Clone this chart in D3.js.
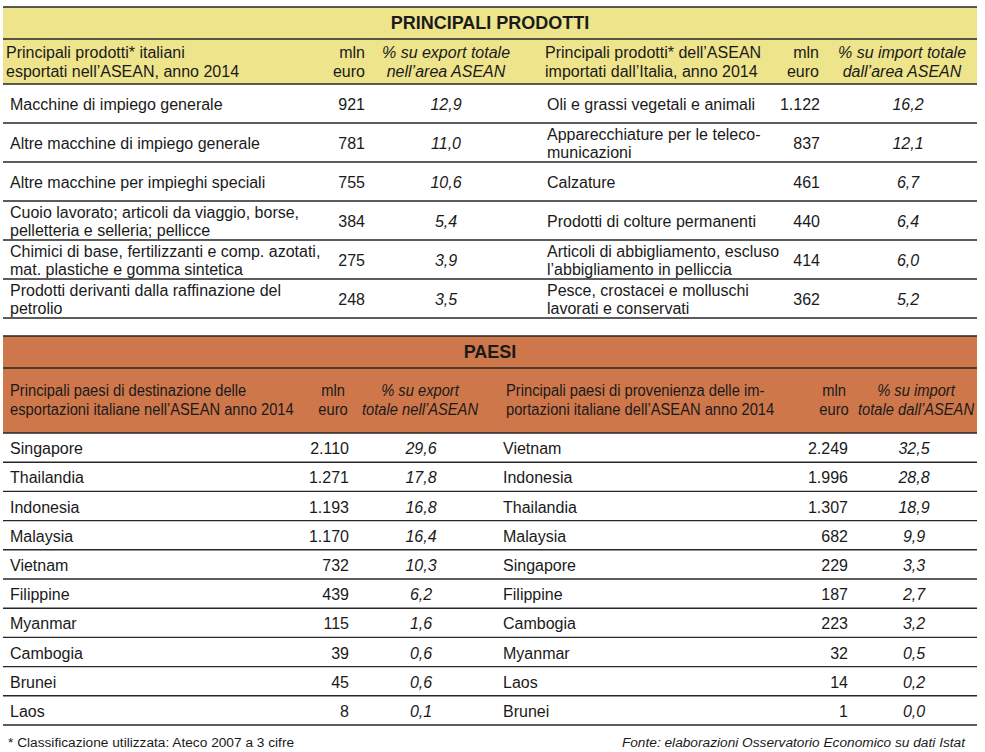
<!DOCTYPE html>
<html><head><meta charset="utf-8">
<script src="https://cdn.jsdelivr.net/npm/d3@7"></script>
<style>
html,body{margin:0;padding:0;background:#fff;}
svg text{font-family:"Liberation Sans",Arial,sans-serif;fill:#1a1a1a;}
</style></head>
<body><svg id="chart" width="985" height="752"></svg>
<script>
// ---------- DATA ----------
const prodExpNames = [["Macchine di impiego generale"],["Altre macchine di impiego generale"],["Altre macchine per impieghi speciali"],["Cuoio lavorato; articoli da viaggio, borse,","pelletteria e selleria; pellicce"],["Chimici di base, fertilizzanti e comp. azotati,","mat. plastiche e gomma sintetica"],["Prodotti derivanti dalla raffinazione del","petrolio"]];
const prodExpMln = [921,781,755,384,275,248];
const prodExpPct = [12.9,11.0,10.6,5.4,3.9,3.5];
const prodImpNames = [["Oli e grassi vegetali e animali"],["Apparecchiature per le teleco-","municazioni"],["Calzature"],["Prodotti di colture permanenti"],["Articoli di abbigliamento, escluso","l\u2019abbigliamento in pelliccia"],["Pesce, crostacei e molluschi","lavorati e conservati"]];
const prodImpMln = [1122,837,461,440,414,362];
const prodImpPct = [16.2,12.1,6.7,6.4,6.0,5.2];
const paesiExp = ["Singapore","Thailandia","Indonesia","Malaysia","Vietnam","Filippine","Myanmar","Cambogia","Brunei","Laos"];
const paesiExpMln = [2110,1271,1193,1170,732,439,115,39,45,8];
const paesiExpPct = [29.6,17.8,16.8,16.4,10.3,6.2,1.6,0.6,0.6,0.1];
const paesiImp = ["Vietnam","Indonesia","Thailandia","Malaysia","Singapore","Filippine","Cambogia","Myanmar","Laos","Brunei"];
const paesiImpMln = [2249,1996,1307,682,229,187,223,32,14,1];
const paesiImpPct = [32.5,28.8,18.9,9.9,3.3,2.7,3.2,0.5,0.2,0.0];

const titleProd = "PRINCIPALI PRODOTTI";
const titlePaesi = "PAESI";
const hdrProdExp = ["Principali prodotti* italiani","esportati nell\u2019ASEAN, anno 2014"];
const hdrProdImp = ["Principali prodotti* dell\u2019ASEAN","importati dall\u2019Italia, anno 2014"];
const hdrMln = ["mln","euro"];
const hdrProdExpPct = ["% su export totale","nell\u2019area ASEAN"];
const hdrProdImpPct = ["% su import totale","dall\u2019area ASEAN"];
const hdrPaesiExp = ["Principali paesi di destinazione delle","esportazioni italiane nell\u2019ASEAN anno 2014"];
const hdrPaesiImp = ["Principali paesi di provenienza delle im-","portazioni italiane dell\u2019ASEAN anno 2014"];
const hdrPaesiExpPct = ["% su export","totale nell\u2019ASEAN"];
const hdrPaesiImpPct = ["% su import","totale dall\u2019ASEAN"];
const noteLeft = "* Classificazione utilizzata: Ateco 2007 a 3 cifre";
const noteRight = "Fonte: elaborazioni Osservatorio Economico su dati Istat";

// ---------- RENDER ----------
const it = d3.formatLocale({decimal:",",thousands:".",grouping:[3],currency:["","\u20ac"]});
const fMln = it.format(",d"), fPct = it.format(".1f");
const svg = d3.select("#chart");
const X0 = 3, X1 = 977;
const YELLOW = "#eee48c", ORANGE = "#cd774b", LINE = "#262626";

function hline(y){ svg.append("line").attr("x1",X0).attr("x2",X1).attr("y1",y).attr("y2",y).attr("stroke",LINE).attr("stroke-width",1.4); }
function txt(x,y,s,opts={}){
  const t = svg.append("text").attr("x",x).attr("y",y).attr("dy","0.35em")
    .attr("font-size",opts.size||16).attr("text-anchor",opts.anchor||"start").text(s);
  if(opts.italic) t.attr("font-style","italic");
  if(opts.bold) t.attr("font-weight","bold");
  if(opts.sx){ t.attr("x",0).attr("y",0).attr("transform",`translate(${x},${y}) scale(${opts.sx},1)`); }
  return t;
}
function multi(x,cy,lines,gap,opts){
  const n = lines.length;
  lines.forEach((s,i)=>txt(x, cy + (i-(n-1)/2)*gap, s, opts));
}

// ===== Section 1: PRINCIPALI PRODOTTI =====
svg.append("rect").attr("x",X0).attr("y",7).attr("width",X1-X0).attr("height",84-7).attr("fill",YELLOW);
hline(7);
txt(490,23,titleProd,{bold:true,anchor:"middle",size:18});
hline(39);
multi(6,62,hdrProdExp,19,{});
multi(365,62,hdrMln,19,{anchor:"end"});
multi(446,62,hdrProdExpPct,19,{anchor:"middle",italic:true});
multi(545,62,hdrProdImp,19,{});
multi(819,62,hdrMln,19,{anchor:"end"});
multi(902,62,hdrProdImpPct,19,{anchor:"middle",italic:true});
hline(84);

const yP = d3.scaleBand().domain(d3.range(prodExpMln.length)).range([84,318]);
prodExpMln.forEach((v,i)=>{
  const cy = yP(i)+yP.bandwidth()/2 + 1;
  multi(10,cy,prodExpNames[i],18,{});
  txt(365,cy,fMln(v),{anchor:"end"});
  txt(446,cy,fPct(prodExpPct[i]),{anchor:"middle",italic:true});
  multi(547,cy,prodImpNames[i],18,{});
  txt(820,cy,fMln(prodImpMln[i]),{anchor:"end"});
  txt(908,cy,fPct(prodImpPct[i]),{anchor:"middle",italic:true});
  hline(yP(i)+yP.bandwidth());
});

// ===== Section 2: PAESI =====
svg.append("rect").attr("x",X0).attr("y",336).attr("width",X1-X0).attr("height",433-336).attr("fill",ORANGE);
hline(336);
txt(490,352,titlePaesi,{bold:true,anchor:"middle",size:18});
hline(368);
multi(10,400,hdrPaesiExp,19,{sx:0.92});
multi(333,400,hdrMln,19,{anchor:"middle",sx:0.92});
multi(420,400,hdrPaesiExpPct,19,{anchor:"middle",italic:true,sx:0.92});
multi(506,400,hdrPaesiImp,19,{sx:0.92});
multi(834,400,hdrMln,19,{anchor:"middle",sx:0.92});
multi(916,400,hdrPaesiImpPct,19,{anchor:"middle",italic:true,sx:0.92});
hline(433);

const yC = d3.scaleBand().domain(d3.range(paesiExp.length)).range([433,725]);
paesiExp.forEach((n,i)=>{
  const cy = yC(i)+yC.bandwidth()/2 + 1;
  txt(10,cy,n,{});
  txt(349,cy,fMln(paesiExpMln[i]),{anchor:"end"});
  txt(421,cy,fPct(paesiExpPct[i]),{anchor:"middle",italic:true});
  txt(503,cy,paesiImp[i],{});
  txt(848,cy,fMln(paesiImpMln[i]),{anchor:"end"});
  txt(914,cy,fPct(paesiImpPct[i]),{anchor:"middle",italic:true});
  hline(yC(i)+yC.bandwidth());
});

// ===== Footer =====
txt(8,742,noteLeft,{size:13.7});
txt(965,742,noteRight,{size:13.7,italic:true,anchor:"end"});
</script></body></html>
